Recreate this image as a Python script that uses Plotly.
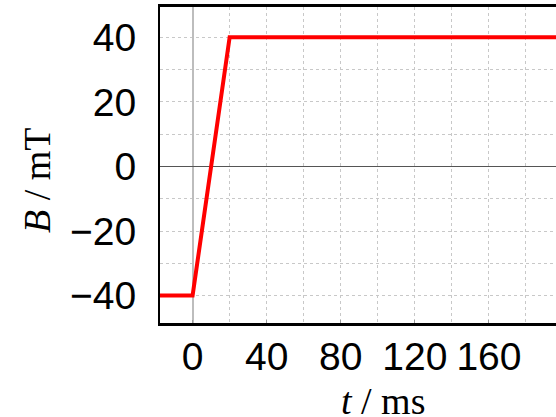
import plotly.graph_objects as go

t_ms = [-20, 0, 20, 200]
B_mT = [-40, -40, 40, 40]
x_ticks = [0, 40, 80, 120, 160]
y_ticks = [-40, -20, 0, 20, 40]

W, H = 556, 417
ml, mr, mt, mb = 160, 0, 7, 94

fig = go.Figure()
fig.add_trace(go.Scatter(x=t_ms, y=B_mT, mode="lines",
                         line=dict(color="#ff0000", width=4), showlegend=False))

tickfont = dict(family="Liberation Sans", size=39, color="black")
fig.update_layout(
    width=W, height=H,
    margin=dict(l=ml, r=mr, t=mt, b=mb),
    paper_bgcolor="white", plot_bgcolor="white",
    xaxis=dict(range=[-17.6, 196.2], tickvals=x_ticks, ticktext=[str(v) for v in x_ticks],
               tickfont=tickfont, showgrid=True, gridcolor="#c8c8c8", griddash="dot", gridwidth=1,
               minor=dict(dtick=20, tick0=0, showgrid=True, gridcolor="#c8c8c8", griddash="dot", gridwidth=1),
               zeroline=True, zerolinecolor="#bdbdbd", zerolinewidth=2,
               showline=True, linecolor="black", linewidth=2.5, mirror=True,
               ticks="inside", ticklen=3, tickcolor="#999", ticklabelstandoff=-3),
    yaxis=dict(range=[-48.5, 49.4], tickvals=y_ticks, tickfont=tickfont,
               showgrid=True, gridcolor="#c8c8c8", griddash="dot", gridwidth=1,
               minor=dict(dtick=10, tick0=0, showgrid=True, gridcolor="#c8c8c8", griddash="dot", gridwidth=1),
               zeroline=True, zerolinecolor="#555555", zerolinewidth=1,
               showline=True, linecolor="black", linewidth=2, mirror=False,
               ticks="", ticklabelstandoff=14),
)

pw = W - ml - mr
ph = H - mt - mb
fig.add_annotation(text="<i>t</i> / ms", xref="paper", yref="paper",
                   x=(383 - ml) / pw, y=-(401 - (mt + ph)) / ph, xanchor="center", yanchor="middle",
                   showarrow=False, font=dict(family="Liberation Serif", size=38, color="black"))
fig.add_annotation(text="<i>B</i> / mT", xref="paper", yref="paper",
                   x=-(ml - 37) / pw, y=1 - (180 - mt) / ph, xanchor="center", yanchor="middle",
                   textangle=-90, showarrow=False,
                   font=dict(family="Liberation Serif", size=38, color="black"))

fig.write_html("out.html", config={"displayModeBar": False},
               post_script="document.body.style.margin='0';")
